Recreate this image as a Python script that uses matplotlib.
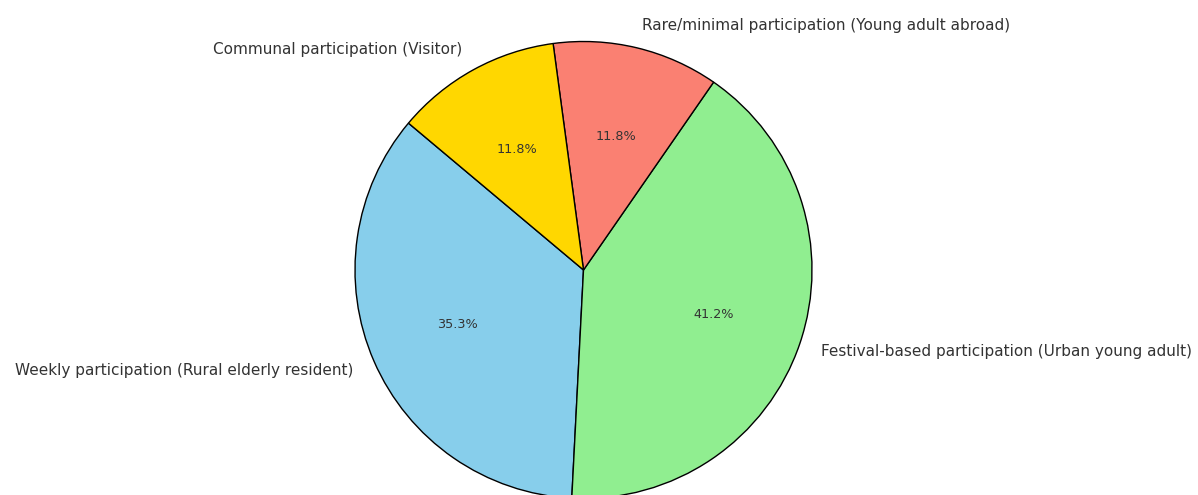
import matplotlib.pyplot as plt

plt.rcParams['font.family'] = ['DejaVu Sans']

labels = ['Weekly participation (Rural elderly resident)',
          'Festival-based participation (Urban young adult)',
          'Rare/minimal participation (Young adult abroad)',
          'Communal participation (Visitor)']
counts = [6, 7, 2, 2]
colors = ['skyblue', 'lightgreen', 'salmon', 'gold']

fig = plt.figure(figsize=(11.98, 4.95), dpi=100)
ax = fig.add_axes([0, 0, 1, 1])

wedges, texts, autotexts = ax.pie(
    counts, labels=labels, colors=colors, autopct='%1.1f%%',
    startangle=140, wedgeprops={'edgecolor': 'black', 'linewidth': 1},
    textprops={'fontsize': 11, 'color': '#333333'})
for t in autotexts:
    t.set_fontsize(9.2)

# place the pie: centre at (583.5, 270) px from top-left, radius 228.5 px
r = 228.5
cx, cy = 583.5, 270
ax.set_aspect('auto')
ax.set_xlim(-cx / r, (1198 - cx) / r)
ax.set_ylim(-(495 - cy) / r, cy / r)
ax.axis('off')

fig.savefig('out.png', dpi=100)
